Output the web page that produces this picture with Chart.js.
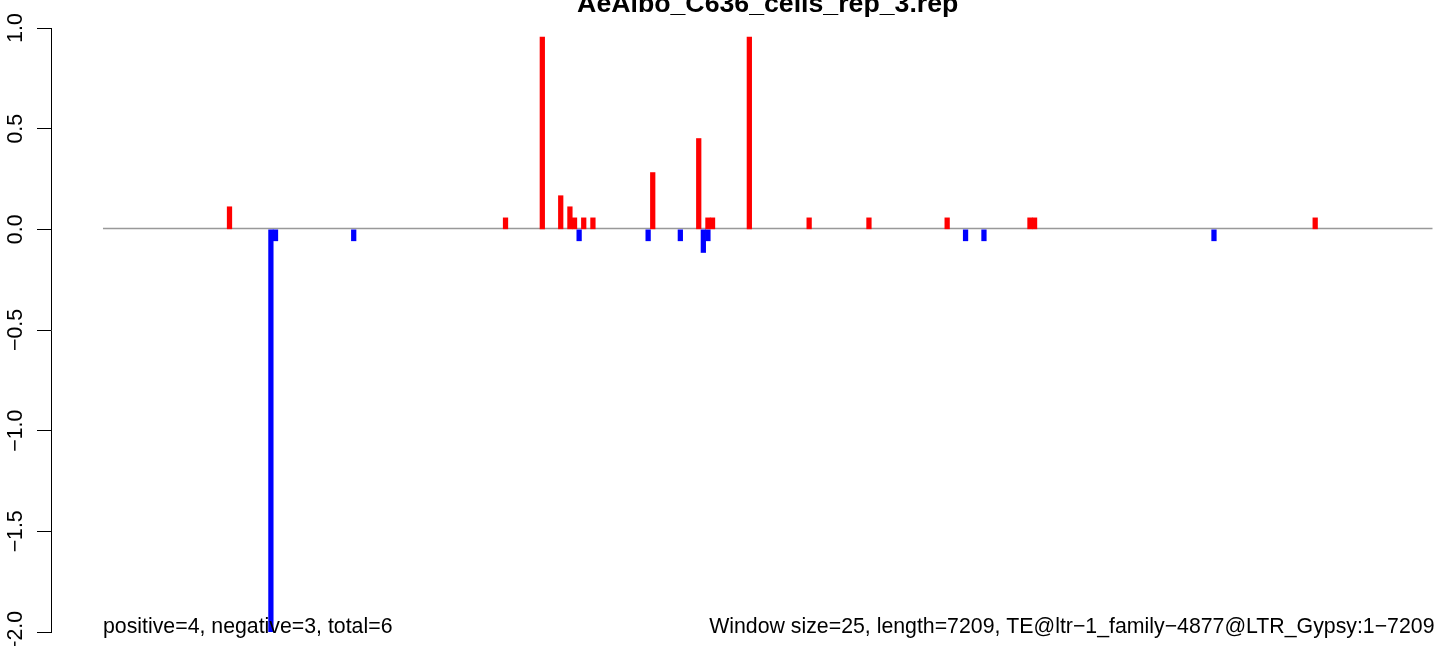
<!DOCTYPE html>
<html>
<head>
<meta charset="utf-8">
<script src="https://cdn.jsdelivr.net/npm/chart.js@4/dist/chart.umd.min.js"></script>
<style>
  html, body { margin: 0; padding: 0; background: #fff; overflow: hidden; }
  canvas { display: block; }
</style>
</head>
<body>
<canvas id="chart" width="1444" height="646"></canvas>
<script>
// number of windows (length 7209 / window 25)
const nWindows = 289;

// positive windows (red) and their values
const redIdx = [27, 87, 95, 99, 101, 102, 104, 106, 119, 129, 131, 132, 140, 153, 166, 183, 201, 202, 263];
const redVal = [0.112, 0.057, 0.955, 0.167, 0.112, 0.057, 0.057, 0.057, 0.282, 0.451, 0.057, 0.057, 0.955, 0.057, 0.057, 0.057, 0.057, 0.057, 0.057];

// negative windows (blue)
const blueIdx = [36, 37, 54, 103, 118, 125, 130, 131, 187, 191, 241];
const blueVal = [-2.0, -0.057, -0.057, -0.057, -0.057, -0.057, -0.115, -0.057, -0.057, -0.057, -0.057];

const yTicks = [-2, -1.5, -1, -0.5, 0, 0.5, 1];
const yTickLabels = ['\u22122.0', '\u22121.5', '\u22121.0', '\u22120.5', '0.0', '0.5', '1.0'];

const titleText = 'AeAlbo_C636_cells_rep_3.rep';
const leftNote = 'positive=4, negative=3, total=6';
const rightNote = 'Window size=25, length=7209, TE@ltr\u22121_family\u22124877@LTR_Gypsy:1\u22127209';

const FONT = '"Liberation Sans", Arial, Helvetica, sans-serif';

const toPoints = (idx, vals) => idx.map((i, k) => ({ x: i + 0.5, y: vals[k] }));

// zero line under the bars
const zeroLine = {
  id: 'zeroLine',
  beforeDatasetsDraw(chart) {
    const { ctx, scales: { x, y } } = chart;
    const py = Math.round(y.getPixelForValue(0)) - 0.5;
    ctx.save();
    ctx.strokeStyle = '#999999';
    ctx.lineWidth = 1.3;
    ctx.beginPath();
    ctx.moveTo(x.getPixelForValue(0), py);
    ctx.lineTo(x.getPixelForValue(nWindows), py);
    ctx.stroke();
    ctx.restore();
  }
};

// title, notes and rotated y labels
const texts = {
  id: 'texts',
  afterDraw(chart) {
    const { ctx, scales: { x, y } } = chart;
    ctx.save();
    ctx.fillStyle = '#000';
    ctx.textBaseline = 'alphabetic';

    ctx.font = 'bold 26.7px ' + FONT;
    ctx.textAlign = 'center';
    ctx.fillText(titleText, x.getPixelForValue(nWindows / 2), 12);

    ctx.font = '21.3px ' + FONT;
    ctx.textAlign = 'left';
    ctx.fillText(leftNote, x.getPixelForValue(0), 633);
    ctx.textAlign = 'right';
    ctx.fillText(rightNote, x.getPixelForValue(nWindows) + 2, 633);

    ctx.textAlign = 'center';
    yTicks.forEach((v, k) => {
      ctx.save();
      ctx.translate(22, y.getPixelForValue(v));
      ctx.rotate(-Math.PI / 2);
      ctx.fillText(yTickLabels[k], 0, 0);
      ctx.restore();
    });
    ctx.restore();
  }
};

const ctx = document.getElementById('chart').getContext('2d');
const chart = new Chart(ctx, {
  type: 'bar',
  data: {
    datasets: [
      { data: toPoints(redIdx, redVal), backgroundColor: '#FF0000', borderWidth: 0 },
      { data: toPoints(blueIdx, blueVal), backgroundColor: '#0000FF', borderWidth: 0 }
    ]
  },
  options: {
    responsive: false,
    animation: false,
    events: [],
    grouped: false,
    barPercentage: 1,
    categoryPercentage: 1,
    layout: { padding: { top: 28, bottom: 14, left: 0, right: 0 } },
    plugins: { legend: { display: false }, tooltip: { enabled: false }, title: { display: false } },
    scales: {
      x: {
        type: 'linear',
        display: false,
        offset: false,
        min: -11.3,
        max: 291.5
      },
      y: {
        min: -2,
        max: 1,
        afterBuildTicks: s => { s.ticks = yTicks.map(v => ({ value: v })); },
        afterFit: s => { s.width = 51; },
        ticks: { display: false },
        grid: { drawOnChartArea: false, drawTicks: true, tickLength: 14, color: '#000', lineWidth: 1 },
        border: { display: true, color: '#000', width: 1 }
      }
    }
  },
  plugins: [zeroLine, texts]
});
</script>
</body>
</html>
